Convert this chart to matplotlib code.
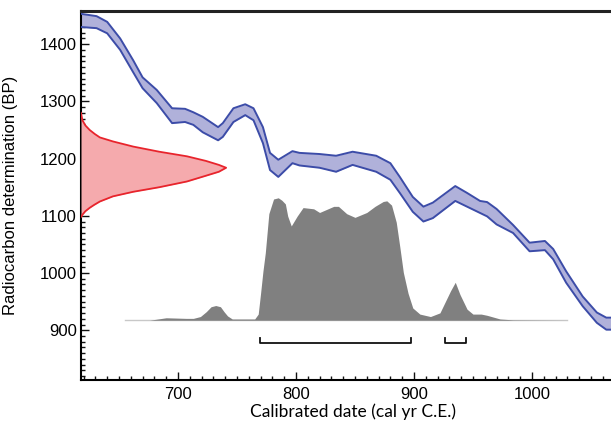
import numpy as np
import matplotlib
matplotlib.use('Agg')
import matplotlib.pyplot as plt
from matplotlib.ticker import MultipleLocator

# calibration curve (IntCal style band)
cal_years = [618, 631, 640, 651, 662, 670, 682, 695, 706, 713, 721, 734, 738, 747, 757, 764,
             772, 778, 785, 797, 803, 820, 834, 848, 868, 880, 888, 899, 908, 916, 935, 945,
             956, 962, 970, 984, 998, 1011, 1018, 1029, 1043, 1055, 1063, 1067]
curve_upper = [1453, 1449, 1439, 1410, 1372, 1342, 1320, 1288, 1287, 1281, 1273, 1255, 1262, 1288, 1295, 1288,
               1255, 1210, 1198, 1213, 1210, 1208, 1205, 1212, 1205, 1192, 1168, 1133, 1116, 1123, 1152, 1140,
               1126, 1124, 1112, 1084, 1053, 1056, 1042, 1003, 959, 931, 922, 922]
curve_lower = [1430, 1428, 1419, 1390, 1351, 1323, 1297, 1262, 1264, 1259, 1246, 1232, 1238, 1264, 1276, 1267,
               1227, 1180, 1168, 1192, 1188, 1184, 1177, 1189, 1177, 1163, 1140, 1107, 1090, 1096, 1126, 1116,
               1105, 1099, 1085, 1070, 1038, 1040, 1024, 983, 942, 913, 901, 901]

# radiocarbon determination (red, on the y axis)
c14_bp = [1280, 1274, 1267, 1258, 1250, 1243, 1237, 1230, 1221, 1212, 1204, 1196, 1189, 1184,
          1177, 1170, 1160, 1150, 1142, 1134, 1125, 1119, 1114, 1108, 1102, 1098]
c14_prob = [0.0, 0.004, 0.01, 0.03, 0.06, 0.095, 0.13, 0.22, 0.36, 0.54, 0.73, 0.86, 0.95, 1.0,
            0.95, 0.86, 0.73, 0.54, 0.36, 0.22, 0.13, 0.09, 0.06, 0.03, 0.01, 0.0]

# calibrated date distribution (grey)
cal_dates = [655, 676, 690, 707, 713, 719, 724, 728, 732, 736, 739, 742, 746, 761, 765,
             768, 770, 772, 774, 777, 781, 785, 788, 791, 793, 796, 801, 806, 815, 820, 832, 836,
             843, 850, 860, 867, 874, 877, 881, 885, 888, 891, 895, 899, 905, 914, 922, 926, 931,
             935, 939, 945, 950, 957, 962, 973, 984, 1030]
cal_prob = [0.0, 0.0, 0.02, 0.015, 0.015, 0.03, 0.07, 0.11, 0.12, 0.11, 0.07, 0.035, 0.01, 0.01, 0.01,
            0.05, 0.22, 0.40, 0.55, 0.87, 0.99, 1.0, 0.98, 0.95, 0.85, 0.77, 0.85, 0.92, 0.91, 0.88, 0.93, 0.93,
            0.87, 0.84, 0.88, 0.93, 0.97, 0.975, 0.94, 0.80, 0.60, 0.39, 0.22, 0.10, 0.05, 0.03, 0.06, 0.14, 0.24,
            0.31, 0.21, 0.09, 0.05, 0.05, 0.04, 0.01, 0.003, 0.0]

# 95.4% ranges
ranges = [(769.5, 897.5), (926, 944)]

x_min, x_max = 617.8, 1067
y_min, y_max = 813, 1458
base_bp = 917.5
grey_height = 214
red_width = 123

fig = plt.figure(figsize=(6.11, 4.21), dpi=100)
ax = fig.add_axes([81 / 611, 41 / 421, 1 - 81 / 611, 369 / 421])

# calibration curve
ax.fill_between(cal_years, curve_lower, curve_upper, color='#b0b1da', lw=0, zorder=2)
ax.plot(cal_years, curve_upper, color='#3c4ca8', lw=1.4, zorder=3)
ax.plot(cal_years, curve_lower, color='#3c4ca8', lw=1.4, zorder=3)

# radiocarbon date
red_x = x_min + np.array(c14_prob) * red_width
ax.fill_betweenx(c14_bp, x_min, red_x, color='#f5aaad', lw=0, zorder=4)
ax.plot(red_x, c14_bp, color='#e8242c', lw=1.3, zorder=5)

# calibrated distribution
grey_y = base_bp + np.array(cal_prob) * grey_height
ax.fill_between(cal_dates, base_bp, grey_y, color='#808080', lw=0, zorder=4)
ax.plot(cal_dates, np.full(len(cal_dates), base_bp), color='#c8c8c8', lw=1, zorder=3)

# range brackets
for a, b in ranges:
    ax.plot([a, a, b, b], [886, 877, 877, 886], color='#111111', lw=1.3, zorder=5)

ax.set_xlim(x_min, x_max)
ax.set_ylim(y_min, y_max)
ax.xaxis.set_major_locator(MultipleLocator(100))
ax.xaxis.set_minor_locator(MultipleLocator(10))
ax.yaxis.set_major_locator(MultipleLocator(100))
ax.yaxis.set_minor_locator(MultipleLocator(10))
ax.tick_params(which='both', direction='in', color='#111111', width=1)
ax.tick_params(which='major', length=6)
ax.tick_params(which='minor', length=3)
ax.tick_params(axis='x', pad=5)
ax.tick_params(axis='y', pad=3)
for lab in ax.get_xticklabels() + ax.get_yticklabels():
    lab.set_fontfamily('Liberation Sans')
    lab.set_fontsize(12)

ax.spines['right'].set_visible(False)
ax.spines['left'].set_linewidth(1.5)
ax.spines['bottom'].set_linewidth(1.5)
ax.spines['top'].set_linewidth(2.2)
ax.spines['top'].set_color('#222222')

ax.set_ylabel('Radiocarbon determination (BP)', fontsize=12, family='Liberation Sans')
ax.yaxis.set_label_coords(-0.119, 0.5)
ax.set_xlabel('Calibrated date (cal yr C.E.)', fontsize=12.5, family='Lato')
ax.xaxis.set_label_coords(0.513, -0.063)

fig.savefig('out.png', dpi=100)
